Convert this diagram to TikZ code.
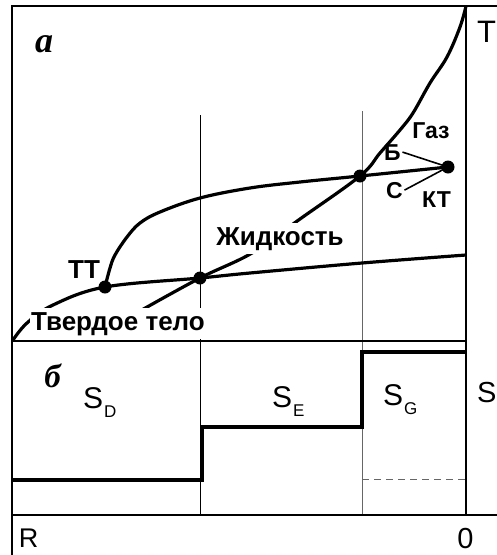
\documentclass[tikz,border=0pt]{standalone}
\usepackage{fontspec}
\setmainfont{Liberation Sans}
\newfontfamily\panelfont{Liberation Serif}
\usetikzlibrary{calc}

\newcommand{\phasesub}[1]{S\kern1pt\raisebox{-9pt}{\fontsize{17}{17}\selectfont #1}}

\begin{document}
\begin{tikzpicture}[x=1pt, y=-1pt,
    frame/.style={line width=1.4pt},
    guide/.style={line width=1pt},
    phaseline/.style={line width=3.2pt},
    stepline/.style={line width=3.8pt},
    point/.style={circle, fill=black, inner sep=0pt, minimum size=13pt},
    phasetext/.style={font=\fontsize{26}{26}\selectfont\bfseries, inner sep=1.5pt, anchor=base},
    smalltext/.style={phasetext, font=\fontsize{23}{23}\selectfont\bfseries},
    axistext/.style={font=\fontsize{29}{29}\selectfont, inner sep=0pt, anchor=base},
    paneltext/.style={font=\fontsize{33}{33}\selectfont\panelfont\bfseries\itshape, inner sep=0pt, anchor=base},
    areatext/.style={font=\fontsize{30}{30}\selectfont, inner sep=0pt, anchor=base west},
    pointer/.style={line width=1.6pt}]

    \useasboundingbox (0,0) rectangle (497,555);

    % phase diagram (a)
    \coordinate (tt) at (105,287);
    \coordinate (melt) at (200,278);
    \coordinate (boil) at (360,176);
    \coordinate (kt) at (448,167);

    \draw[guide] (200,115) -- (200,515);
    \draw[guide, black!60] (362,111) -- (362,515);

    \draw[phaseline] plot[smooth, tension=0.6] coordinates
        {(13,340) (27,323) (53,305) (tt) (melt) (250,273) (362,263) (466,255)};
    \draw[phaseline] plot[smooth, tension=0.6] coordinates
        {(tt) (110,268) (115,255) (127,237) (140,223) (160,212) (200,198) (250,188) (300,182) (boil) (kt)};
    \draw[phaseline] plot[smooth, tension=0.6] coordinates
        {(140,311) (melt) (252,253) (300,219) (boil) (380,153) (400,130) (413,113) (430,83) (447,57) (460,27) (466,6)};

    \node[phasetext, fill=white, inner ysep=4pt] (solid) at (118,330) {Твердое тело};
    \node[phasetext, fill=white, inner ysep=4pt] (liquid) at (280,245) {Жидкость};
    \node[phasetext] (ttlabel) at (84,278) {ТТ};
    \node[smalltext] (gas) at (431,138) {Газ};
    \node[smalltext] (lblB) at (392.5,160) {Б};
    \node[smalltext] (lblC) at (394.5,198) {С};
    \node[smalltext] (ktlabel) at (436.5,207) {КТ};

    \draw[pointer] (lblB.east) -- (kt);
    \draw[pointer] (lblC.east) -- (kt);

    \foreach \p in {tt, melt, boil, kt}
        \node[point] at (\p) {};

    % areas (b)
    \draw[stepline] (12,480) -| (202,427) -| (362,352) -- (466,352);
    \draw[black!60, line width=1pt, dash pattern=on 7pt off 5pt] (362,479) -- (466,479);

    \node[areatext] (sd) at (83,408) {\phasesub{D}};
    \node[areatext] (se) at (272,407) {\phasesub{E}};
    \node[areatext] (sg) at (383,405) {\phasesub{G}};
    \node[axistext, anchor=base west] (saxis) at (477,402) {S};

    % frame and axes
    \draw[frame] (12,555) -- (12,6) -- (497,6);
    \draw[frame] (466,6) -- (466,515);
    \draw[frame] (12,515) -- (497,515);
    \draw[line width=2.2pt] (12,341) -- (466,341);

    \node[axistext, font=\fontsize{31}{31}\selectfont] (taxis) at (486.5,42) {T};
    \node[axistext, font=\fontsize{27}{27}\selectfont] (raxis) at (28.5,547) {R};
    \node[axistext] (zero) at (465.5,548) {0};

    \node[paneltext, font=\fontsize{36}{36}\selectfont\panelfont\bfseries\itshape] (panelA) at (44,52) {а};
    \node[paneltext] (panelB) at (52.5,387) {б};
\end{tikzpicture}
\end{document}
